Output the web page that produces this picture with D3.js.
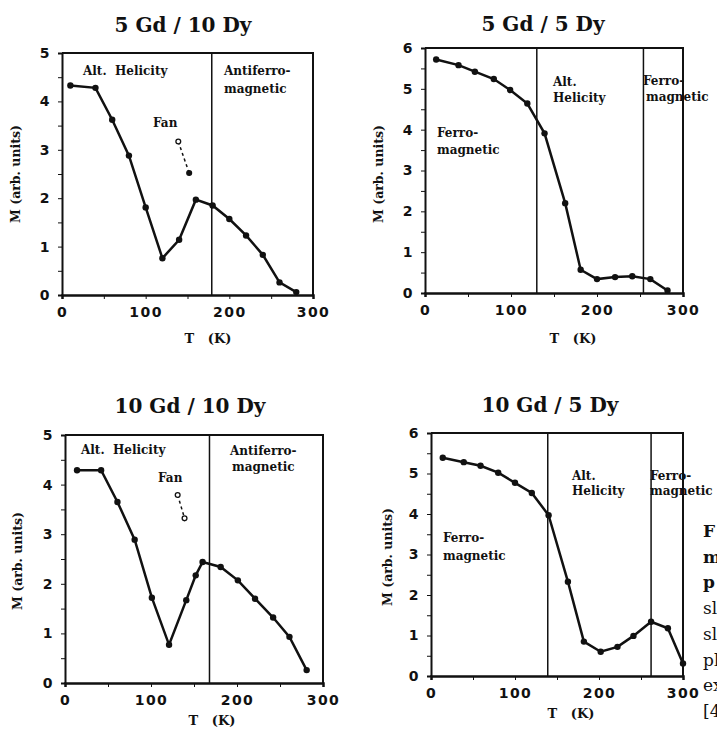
<!doctype html>
<html>
<head>
<meta charset="UTF-8">
<title>M vs T</title>
<script src="https://d3js.org/d3.v7.min.js"></script>
<style>
  body { margin: 0; background: #fff; }
  .serif { font-family: "DejaVu Serif", serif; font-weight: bold; fill: #111; }
  .tick text { font-family: "DejaVu Sans", sans-serif; font-weight: bold; font-size: 14px; letter-spacing: 1.5px; fill: #111; }
  .tick line, .domain { stroke: #111; }
</style>
</head>
<body>
<svg id="chart" width="717" height="738"></svg>
<script>
// 5 Gd / 10 Dy
var t1 = [10, 40, 60, 80, 100, 120, 140, 160, 180, 200, 220, 240, 260, 280];
var m1 = [4.33, 4.28, 3.62, 2.88, 1.81, 0.76, 1.14, 1.97, 1.85, 1.57, 1.23, 0.83, 0.26, 0.06];
var fanT1 = [139, 152];
var fanM1 = [3.17, 2.52];
var bounds1 = [179];

// 5 Gd / 5 Dy
var t2 = [13, 39, 58, 80, 99, 119, 139, 163, 181, 200, 221, 241, 262, 282];
var m2 = [5.72, 5.58, 5.42, 5.24, 4.97, 4.64, 3.91, 2.2, 0.57, 0.34, 0.39, 0.41, 0.34, 0.06];
var bounds2 = [130, 254];

// 10 Gd / 10 Dy
var t3 = [14, 42, 61, 81, 101, 121, 141, 152, 160, 181, 201, 221, 242, 261, 281];
var m3 = [4.29, 4.29, 3.65, 2.89, 1.72, 0.77, 1.67, 2.17, 2.44, 2.34, 2.07, 1.70, 1.32, 0.93, 0.26];
var fanT3 = [131, 139];
var fanM3 = [3.79, 3.32];
var bounds3 = [168];

// 10 Gd / 5 Dy
var t4 = [14, 39, 59, 80, 100, 120, 140, 163, 182, 202, 222, 241, 262, 282, 300];
var m4 = [5.39, 5.28, 5.19, 5.02, 4.77, 4.52, 3.97, 2.33, 0.85, 0.60, 0.72, 0.99, 1.34, 1.18, 0.31];
var bounds4 = [139, 262];

var titles = ["5 Gd / 10 Dy", "5 Gd / 5 Dy", "10 Gd / 10 Dy", "10 Gd / 5 Dy"];
var yMax = [5, 6, 5, 6];
var xTicks = [0, 50, 100, 150, 200, 250, 300];

var svg = d3.select("#chart");

// pixel boxes of the four plots and where their texts sit
var layout = [
  {x0: 62, x1: 313, y0: 53, y1: 295, title: [183, 32], ylab: [20, 174], xlab: [208, 343],
   notes: [["Alt.  Helicity", 83, 75], ["Antiferro-", 224, 75], ["magnetic", 224, 93], ["Fan", 153, 127]]},
  {x0: 425, x1: 683, y0: 48, y1: 293, title: [543, 31], ylab: [383, 174], xlab: [573, 343],
   notes: [["Alt.", 553, 86], ["Helicity", 553, 102], ["Ferro-", 643, 85], ["magnetic", 646, 101],
           ["Ferro-", 437, 137], ["magnetic", 437, 154]]},
  {x0: 65, x1: 323, y0: 435, y1: 683, title: [190, 413], ylab: [22, 561], xlab: [212, 725],
   notes: [["Alt.  Helicity", 81, 454], ["Antiferro-", 230, 455], ["magnetic", 232, 471], ["Fan", 158, 482]]},
  {x0: 431, x1: 683, y0: 433, y1: 676, title: [550, 412], ylab: [392, 557], xlab: [571, 718],
   notes: [["Alt.", 572, 480], ["Helicity", 572, 495], ["Ferro-", 650, 480], ["magnetic", 650, 495],
           ["Ferro-", 443, 542], ["magnetic", 443, 560]]}
];

var series = [
  {t: t1, m: m1, fanT: fanT1, fanM: fanM1, fanOpen: [true, false], bounds: bounds1},
  {t: t2, m: m2, bounds: bounds2},
  {t: t3, m: m3, fanT: fanT3, fanM: fanM3, fanOpen: [true, true], bounds: bounds3},
  {t: t4, m: m4, bounds: bounds4}
];

series.forEach(function(s, i) {
  var L = layout[i];
  var x = d3.scaleLinear().domain([0, 300]).range([L.x0, L.x1]);
  var y = d3.scaleLinear().domain([0, yMax[i]]).range([L.y1, L.y0]);
  var g = svg.append("g");

  // frame top + right
  g.append("path")
    .attr("d", "M" + L.x0 + "," + L.y0 + "H" + L.x1 + "V" + L.y1)
    .attr("fill", "none").attr("stroke", "#111").attr("stroke-width", 2);

  var yTicks = d3.range(0, yMax[i] + 0.01, 0.5);
  g.append("g").attr("transform", "translate(" + L.x0 + ",0)")
    .call(d3.axisLeft(y).tickValues(yTicks).tickSize(4).tickPadding(7)
      .tickFormat(function(d) { return d % 1 === 0 ? d : ""; }))
    .call(function(a) { a.select(".domain").attr("stroke-width", 2); });

  g.append("g").attr("transform", "translate(0," + L.y1 + ")")
    .call(d3.axisBottom(x).tickValues(xTicks).tickSize(4).tickPadding(8)
      .tickFormat(function(d) { return d % 100 === 0 ? d : ""; }))
    .call(function(a) { a.select(".domain").attr("stroke-width", 2.5); });

  // phase boundaries
  g.selectAll(".bound").data(s.bounds).enter().append("line")
    .attr("x1", function(d) { return x(d); }).attr("x2", function(d) { return x(d); })
    .attr("y1", L.y0).attr("y2", L.y1)
    .attr("stroke", "#111").attr("stroke-width", 1.5);

  var pts = s.t.map(function(d, k) { return [d, s.m[k]]; });
  var line = d3.line().x(function(d) { return x(d[0]); }).y(function(d) { return y(d[1]); });
  g.append("path").datum(pts).attr("d", line)
    .attr("fill", "none").attr("stroke", "#111").attr("stroke-width", 2.5);
  g.selectAll(".pt").data(pts).enter().append("circle")
    .attr("cx", function(d) { return x(d[0]); }).attr("cy", function(d) { return y(d[1]); })
    .attr("r", 3.2).attr("fill", "#111");

  if (s.fanT) {
    var fan = s.fanT.map(function(d, k) { return [d, s.fanM[k]]; });
    g.append("path").datum(fan).attr("d", line)
      .attr("fill", "none").attr("stroke", "#111").attr("stroke-width", 1.5)
      .attr("stroke-dasharray", "3,3");
    g.selectAll(".fan").data(fan).enter().append("circle")
      .attr("cx", function(d) { return x(d[0]); }).attr("cy", function(d) { return y(d[1]); })
      .attr("r", 2.4)
      .attr("fill", function(d, k) { return s.fanOpen[k] ? "#fff" : "#111"; })
      .attr("stroke", "#111").attr("stroke-width", 1.3);
  }

  g.append("text").attr("class", "serif")
    .attr("x", L.title[0]).attr("y", L.title[1])
    .attr("text-anchor", "middle").attr("font-size", 20)
    .text(titles[i]);

  g.append("text").attr("class", "serif")
    .attr("transform", "translate(" + L.ylab[0] + "," + L.ylab[1] + ") rotate(-90)")
    .attr("text-anchor", "middle").attr("font-size", 12.5)
    .text("M (arb. units)");

  g.append("text").attr("class", "serif")
    .attr("x", L.xlab[0]).attr("y", L.xlab[1])
    .attr("text-anchor", "middle").attr("font-size", 13)
    .attr("xml:space", "preserve")
    .text("T   (K)");

  g.selectAll(".note").data(L.notes).enter().append("text").attr("class", "serif")
    .attr("x", function(d) { return d[1]; }).attr("y", function(d) { return d[2]; })
    .attr("font-size", 12)
    .attr("xml:space", "preserve")
    .text(function(d) { return d[0]; });
});

// caption running off the right edge (only its first letters show)
var caption = ["F", "m", "p", "sl", "sl", "pl", "ex", "[4"];
svg.selectAll(".cap").data(caption).enter().append("text")
  .attr("x", 703).attr("y", function(d, k) { return 537 + k * 25.7; })
  .attr("font-family", "DejaVu Serif, serif").attr("font-size", 17)
  .attr("font-weight", function(d, k) { return k < 3 ? "bold" : "normal"; })
  .attr("fill", "#111")
  .text(function(d) { return d; });
</script>
</body>
</html>
